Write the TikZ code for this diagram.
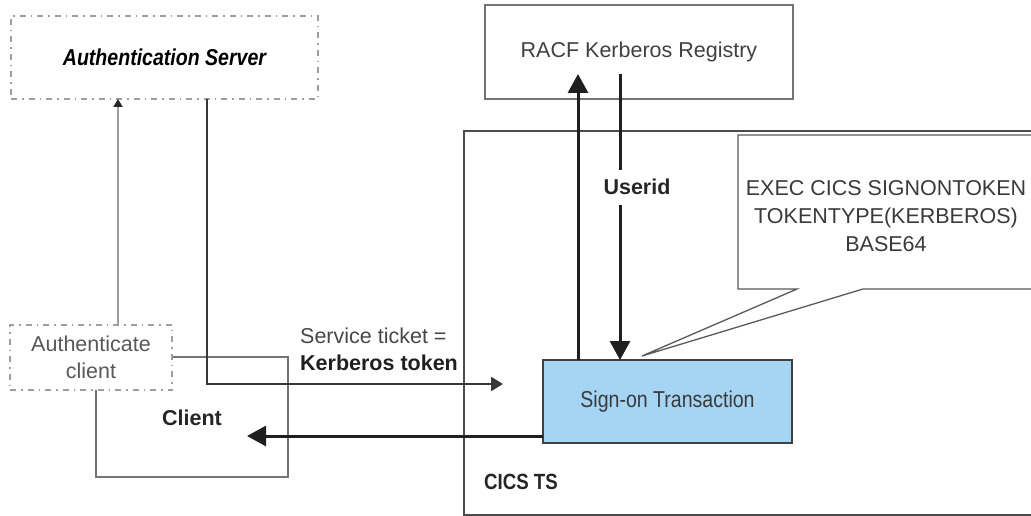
\documentclass[tikz,border=0pt]{standalone}
\usepackage{fontspec}
\setmainfont{Liberation Sans}
\newfontfamily\condfont[FakeStretch=0.85]{Liberation Sans}
\usetikzlibrary{arrows.meta,calc}
\definecolor{signblue}{HTML}{A6D5F4}
\definecolor{txtgray}{HTML}{3A3A3A}
\begin{document}
\begin{tikzpicture}[x=1pt,y=-1pt,
  box/.style={draw, inner sep=0pt, outer sep=0pt, anchor=north west, align=center},
  dashbox/.style={box, draw=black!38, line width=1.8pt, dash pattern=on 6pt off 5pt on 1.5pt off 5pt},
  solidbox/.style={box, draw=black!60, line width=1.5pt},
  txt/.style={font=\fontsize{21.5}{27}\selectfont, text=txtgray},
  btxt/.style={font=\fontsize{21.5}{27}\selectfont\bfseries, text=black!85, inner sep=0pt},
  bigarr/.style={draw=black!88, line width=3pt, -{Triangle[length=19pt,width=20pt]}},
  medarr/.style={draw=black!78, line width=2.5pt, -{Triangle[length=12pt,width=14pt]}},
  thinarr/.style={draw=black!38, line width=2pt, -{Triangle[length=8pt,width=9pt,color=black!85]}},
  callout/.style={draw=black!65, line width=1.3pt, fill=white}
]
\useasboundingbox (0,0) rectangle (1031,516);
\clip (0,0) rectangle (1031,516);

% helper coordinates
\coordinate (x118) at (118,0);
\coordinate (x207) at (207,0);
\coordinate (x578) at (578,0);
\coordinate (x620) at (620,0);
\coordinate (y436) at (0,436);
\coordinate (tkend) at (503,384);
\coordinate (clend) at (247,436);
\coordinate (upend) at (578,74);
\coordinate (dnstart) at (620,74);
\coordinate (dngap1) at (620,170);
\coordinate (dngap2) at (620,205);

% Authentication server
\node[dashbox, minimum width=307pt, minimum height=83pt,
      font=\condfont\fontsize{23}{27}\selectfont\bfseries\itshape, text=black] (as) at (11,16) {Authentication Server};

% Client
\node[solidbox, draw=black!55, minimum width=192pt, minimum height=120pt] (client) at (96,357) {};
\node[btxt] (clientlbl) at (192,418) {Client};
\node[dashbox, fill=white, minimum width=162pt, minimum height=65pt, txt, text=black!65] (ac) at (10,325) {Authenticate\\client};

% RACF
\node[solidbox, draw=black!55, minimum width=308pt, minimum height=94pt, txt, text=black!75] (racf) at (485,5) {RACF Kerberos Registry};

% CICS TS
\node[solidbox, draw=black!70, minimum width=590pt, minimum height=384pt] (cics) at (464,131) {};
\node[btxt, font=\condfont\fontsize{22}{27}\selectfont\bfseries] (cicslbl) at (521,482) {CICS TS};

% Callout
\draw[callout] (738,135) -- (1040,135) -- (1040,289) -- (863,289) -- (642,356) -- (797,289) -- (738,289) -- cycle;
\node[txt, align=center, font=\fontsize{21.5}{28}\selectfont] (calltxt) at (886,216) {EXEC CICS SIGNONTOKEN\\TOKENTYPE(KERBEROS)\\BASE64};

% Sign-on transaction
\node[box, fill=signblue, draw=black!75, line width=1.5pt, minimum width=249pt, minimum height=83pt,
      font=\condfont\fontsize{23}{27}\selectfont, text=txtgray] (sign) at (543,360) {Sign-on Transaction};

% Labels
\node[anchor=north west, inner sep=0pt, align=left, font=\fontsize{21.5}{27}\selectfont, text=black!72] (ticket) at (300,328)
  {Service ticket =\\\textbf{\color{black!88}Kerberos token}};
\node[btxt] (userid) at (637,187) {Userid};

% Connectors
\draw[thinarr] (ac.north -| x118) -- (as.south -| x118);
\draw[medarr] (as.south -| x207) |- (tkend);
\draw[bigarr] (sign.west |- y436) -- (clend);
\draw[bigarr] (sign.north -| x578) -- (upend);
\draw[draw=black!88, line width=3pt] (dnstart) -- (dngap1);
\draw[bigarr] (dngap2) -- (sign.north -| x620);
% Authenticate client to client box link (line from AC right edge)
\end{tikzpicture}
\end{document}
